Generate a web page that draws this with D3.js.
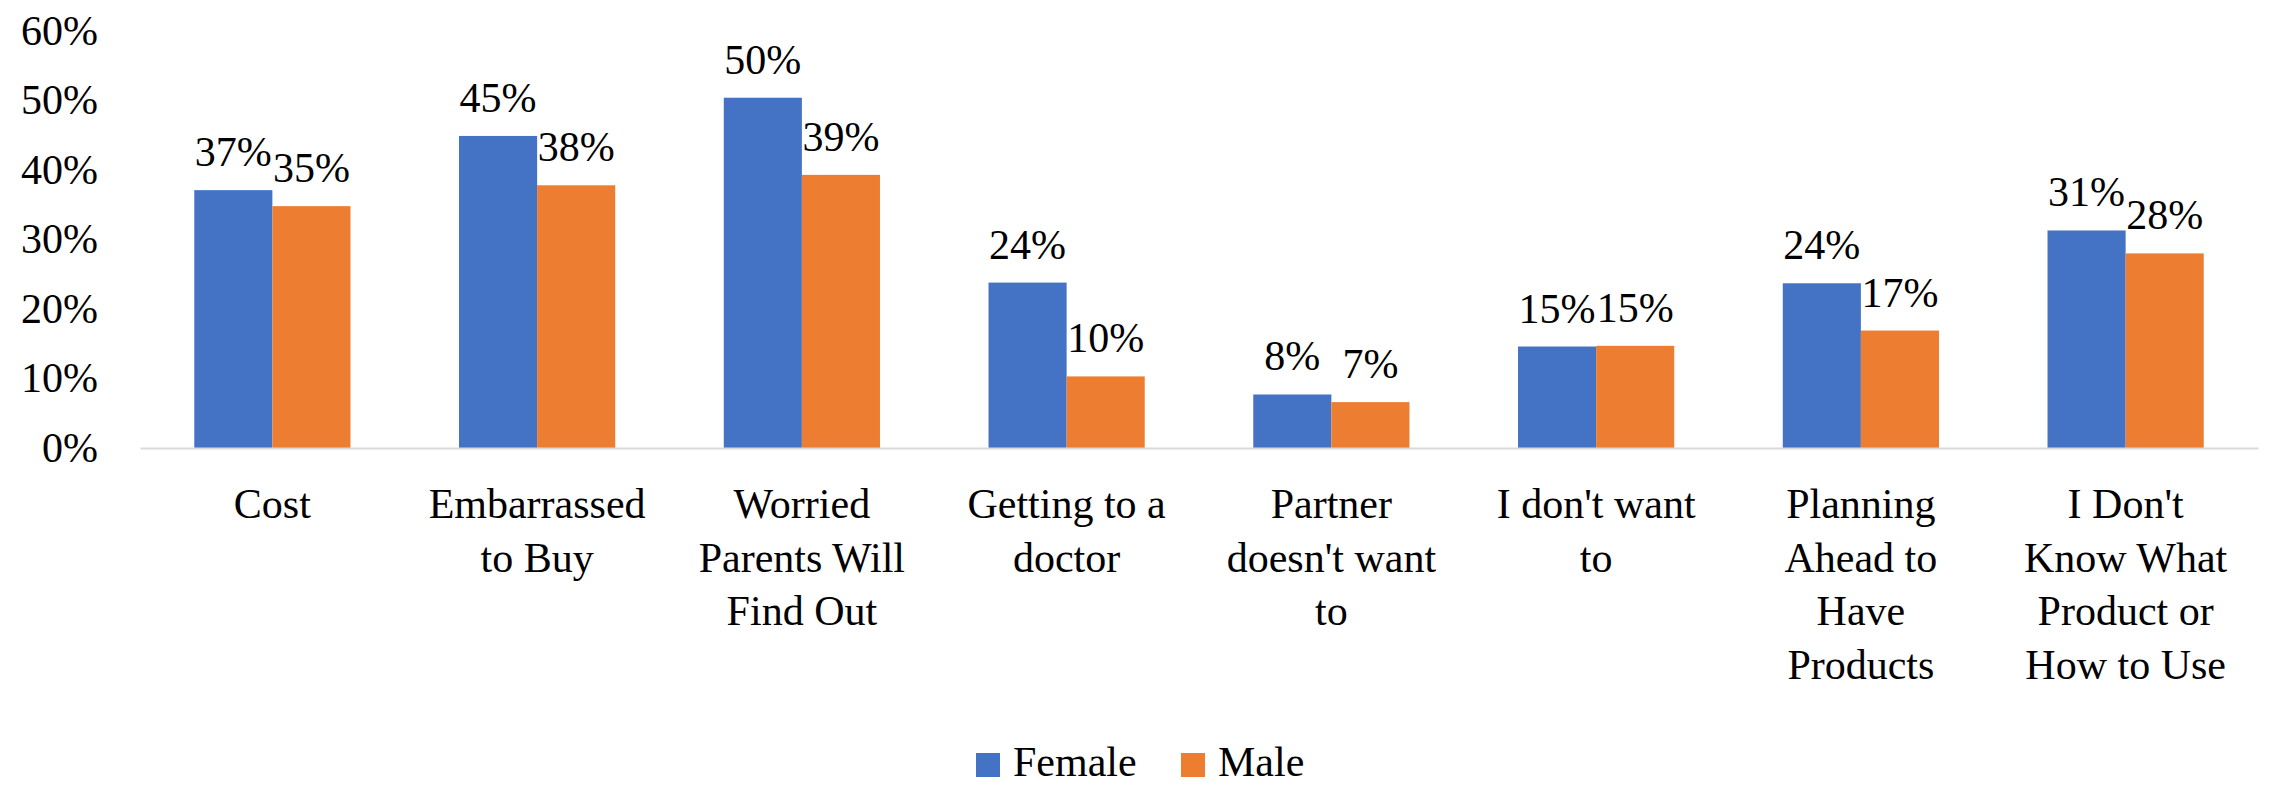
<!DOCTYPE html>
<html>
<head>
<meta charset="utf-8">
<script src="https://cdn.jsdelivr.net/npm/d3@7"></script>
<style>
  body { margin: 0; background: #fff; }
  svg text { font-family: "Liberation Serif", Tinos, "Times New Roman", Times, "DejaVu Serif", serif; fill: #000; }
</style>
</head>
<body>
<script>
// chart data
var categories = ["Cost", "Embarrassed\nto Buy", "Worried\nParents Will\nFind Out", "Getting to a\ndoctor",
                  "Partner\ndoesn't want\nto", "I don't want\nto", "Planning\nAhead to\nHave\nProducts",
                  "I Don't\nKnow What\nProduct or\nHow to Use"];
var series = ["Female", "Male"];
var female = [0.371, 0.449, 0.504, 0.238, 0.077, 0.146, 0.237, 0.313];
var male = [0.348, 0.378, 0.393, 0.103, 0.066, 0.147, 0.169, 0.280];
var yTicks = [0, 0.1, 0.2, 0.3, 0.4, 0.5, 0.6];
var colors = ["#4472C4", "#ED7D31"];

var W = 2272, H = 785;
var margin = {top: 31, right: 14, bottom: 337, left: 140};
var fontSize = 42;
var serif = '"Liberation Serif", Tinos, "Times New Roman", Times, "DejaVu Serif", serif';

var svg = d3.select("body").append("svg")
    .attr("width", W)
    .attr("height", H)
    .attr("font-family", serif);

var x0 = d3.scaleBand()
    .domain(categories)
    .range([margin.left, W - margin.right])
    .paddingInner(0.41)
    .paddingOuter(0.205);

var x1 = d3.scaleBand()
    .domain(series)
    .range([0, x0.bandwidth()]);

var y = d3.scaleLinear()
    .domain([0, 0.6])
    .range([H - margin.bottom, margin.top]);

var fmt = d3.format(".0%");

var rows = categories.map(function(c, i) {
  return {cat: c, vals: [{s: "Female", v: female[i]}, {s: "Male", v: male[i]}]};
});

// y axis labels (no axis line, no gridlines)
var yAxis = svg.append("g")
    .attr("transform", "translate(98,0)")
    .call(d3.axisLeft(y).tickValues(yTicks).tickFormat(fmt).tickSize(0).tickPadding(0));
yAxis.attr("font-family", serif).attr("font-size", fontSize);
yAxis.select(".domain").remove();
yAxis.selectAll("text")
    .attr("dy", "0.32em");

// bars
var groups = svg.selectAll("g.cat")
    .data(rows)
  .enter().append("g")
    .attr("class", "cat")
    .attr("transform", function(d) { return "translate(" + x0(d.cat) + ",0)"; });

groups.selectAll("rect")
    .data(function(d) { return d.vals; })
  .enter().append("rect")
    .attr("x", function(d) { return x1(d.s); })
    .attr("y", function(d) { return y(d.v); })
    .attr("width", x1.bandwidth())
    .attr("height", function(d) { return y(0) - y(d.v); })
    .style("fill", function(d) { return colors[series.indexOf(d.s)]; });

// data labels
groups.selectAll("text.lbl")
    .data(function(d) { return d.vals; })
  .enter().append("text")
    .attr("class", "lbl")
    .attr("x", function(d) { return x1(d.s) + x1.bandwidth() / 2; })
    .attr("y", function(d) { return y(d.v) - 24; })
    .attr("text-anchor", "middle")
    .attr("font-size", fontSize)
    .text(function(d) { return fmt(d.v); });

// x axis
var xAxis = svg.append("g")
    .attr("transform", "translate(0," + y(0) + ")")
    .call(d3.axisBottom(x0).tickSize(0).tickFormat(""));
xAxis.select(".domain")
    .attr("stroke", "#d9d9d9")
    .attr("stroke-width", 2);

// category labels, one tspan per line
svg.append("g").selectAll("text")
    .data(categories)
  .enter().append("text")
    .attr("x", function(d) { return x0(d) + x0.bandwidth() / 2; })
    .attr("y", 518)
    .attr("text-anchor", "middle")
    .attr("font-size", fontSize)
    .each(function(d) {
      var t = d3.select(this);
      d.split("\n").forEach(function(line, i) {
        t.append("tspan")
          .attr("x", x0(d) + x0.bandwidth() / 2)
          .attr("dy", i === 0 ? 0 : 53.5)
          .text(line);
      });
    });

// legend
var legend = svg.append("g").attr("transform", "translate(976,753)");
var legX = [0, 205];
series.forEach(function(s, i) {
  legend.append("rect")
      .attr("x", legX[i])
      .attr("y", 0)
      .attr("width", 24)
      .attr("height", 24)
      .style("fill", colors[i]);
  legend.append("text")
      .attr("x", legX[i] + 37)
      .attr("y", 23)
      .attr("font-size", fontSize)
      .text(s);
});
</script>
</body>
</html>
